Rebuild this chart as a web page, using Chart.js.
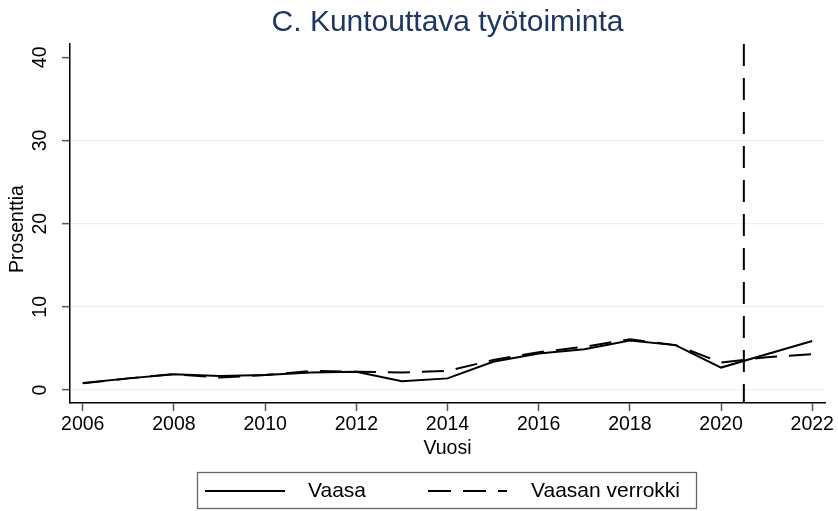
<!DOCTYPE html>
<html>
<head>
<meta charset="utf-8">
<script src="https://cdn.jsdelivr.net/npm/chart.js@4"></script>
<style>
  body { margin: 0; background: #fff; }
  canvas { display: block; }
</style>
</head>
<body>
<canvas id="chart" width="838" height="511"></canvas>
<script>
const years = [2006, 2007, 2008, 2009, 2010, 2011, 2012, 2013, 2014, 2015, 2016, 2017, 2018, 2019, 2020, 2021, 2022];
const vaasa = [0.85, 1.4, 1.9, 1.7, 1.8, 2.1, 2.2, 1.05, 1.4, 3.4, 4.4, 4.9, 5.95, 5.4, 2.7, 4.3, 5.9];
const verrokki = [0.8, 1.4, 1.9, 1.5, 1.8, 2.3, 2.2, 2.1, 2.3, 3.6, 4.55, 5.2, 6.1, 5.4, 3.3, 3.95, 4.3];
const xTicks = [2006, 2008, 2010, 2012, 2014, 2016, 2018, 2020, 2022];
const yTicks = [0, 10, 20, 30, 40];
const seriesNames = ['Vaasa', 'Vaasan verrokki'];
const refLineYear = 2020.5;
const titleText = 'C. Kuntouttava työtoiminta';
const xTitle = 'Vuosi';
const yTitle = 'Prosenttia';

const FONT = "'Liberation Sans', Arial, sans-serif";
const DASH = [22, 12];

const toPoints = vals => years.map((y, i) => ({ x: y, y: vals[i] }));

// title, rotated y labels, axis titles, reference line, legend box
const decor = {
  id: 'decor',
  afterDraw(chart) {
    const ctx = chart.ctx;
    const area = chart.chartArea;
    const xs = chart.scales.x;
    const ys = chart.scales.y;
    const midX = (area.left + area.right) / 2;

    ctx.save();
    // reference line
    const rx = xs.getPixelForValue(refLineYear);
    ctx.strokeStyle = '#000';
    ctx.lineWidth = 2;
    ctx.setLineDash(DASH);
    ctx.beginPath();
    ctx.moveTo(rx, area.top);
    ctx.lineTo(rx, area.bottom);
    ctx.stroke();
    ctx.setLineDash([]);

    // title
    ctx.fillStyle = '#1f3660';
    ctx.font = '30px ' + FONT;
    ctx.textAlign = 'center';
    ctx.textBaseline = 'middle';
    ctx.fillText(titleText, midX, 23);

    // y tick labels, rotated
    ctx.fillStyle = '#000';
    ctx.font = '19.5px ' + FONT;
    yTicks.forEach(v => {
      ctx.save();
      ctx.translate(41, ys.getPixelForValue(v));
      ctx.rotate(-Math.PI / 2);
      ctx.fillText(String(v), 0, 0);
      ctx.restore();
    });

    // axis titles
    ctx.save();
    ctx.translate(18, 229);
    ctx.rotate(-Math.PI / 2);
    ctx.fillText(yTitle, 0, 0);
    ctx.restore();
    ctx.fillText(xTitle, midX, 449);

    // legend
    ctx.strokeStyle = '#666';
    ctx.lineWidth = 1.3;
    ctx.strokeRect(197.5, 472.5, 499, 36);
    const ly = 491;
    ctx.strokeStyle = '#000';
    ctx.lineWidth = 2;
    ctx.beginPath();
    ctx.moveTo(205, ly);
    ctx.lineTo(285, ly);
    ctx.stroke();
    ctx.setLineDash([23, 12]);
    ctx.beginPath();
    ctx.moveTo(428, ly);
    ctx.lineTo(507, ly);
    ctx.stroke();
    ctx.setLineDash([]);
    ctx.font = '21px ' + FONT;
    ctx.textAlign = 'left';
    ctx.fillText(seriesNames[0], 308, ly);
    ctx.fillText(seriesNames[1], 531, ly);
    ctx.restore();
  }
};

new Chart(document.getElementById('chart'), {
  type: 'line',
  data: {
    datasets: [
      {
        label: seriesNames[0],
        data: toPoints(vaasa),
        borderColor: '#000',
        borderWidth: 2,
        pointRadius: 0,
        tension: 0
      },
      {
        label: seriesNames[1],
        data: toPoints(verrokki),
        borderColor: '#000',
        borderWidth: 2,
        borderDash: DASH,
        pointRadius: 0,
        tension: 0
      }
    ]
  },
  options: {
    responsive: false,
    animation: false,
    layout: { padding: { top: 44, right: 13, left: 0, bottom: 0 } },
    plugins: {
      legend: { display: false },
      title: { display: false },
      tooltip: { enabled: false }
    },
    scales: {
      x: {
        type: 'linear',
        min: 2005.72,
        max: 2022.28,
        afterBuildTicks: s => { s.ticks = xTicks.map(v => ({ value: v })); },
        afterFit: s => { s.height = 108; },
        border: { display: true, color: '#000', width: 1.5 },
        grid: { drawOnChartArea: false, drawTicks: true, tickLength: 8, tickColor: '#555', tickWidth: 1.5 },
        ticks: { color: '#000', padding: 2, maxRotation: 0, font: { family: FONT, size: 19.5 }, callback: v => String(v) }
      },
      y: {
        type: 'linear',
        min: -1.56,
        max: 41.6,
        afterBuildTicks: s => { s.ticks = yTicks.map(v => ({ value: v })); },
        afterFit: s => { s.width = 70; },
        border: { display: true, color: '#000', width: 1.5 },
        grid: {
          color: c => (c.tick && c.tick.value <= 30 ? '#eaf2f3' : 'rgba(0,0,0,0)'),
          lineWidth: 1.3,
          drawTicks: true,
          tickLength: 8,
          tickColor: '#555',
          tickWidth: 1.5
        },
        ticks: { display: false }
      }
    }
  },
  plugins: [decor]
});
</script>
</body>
</html>
